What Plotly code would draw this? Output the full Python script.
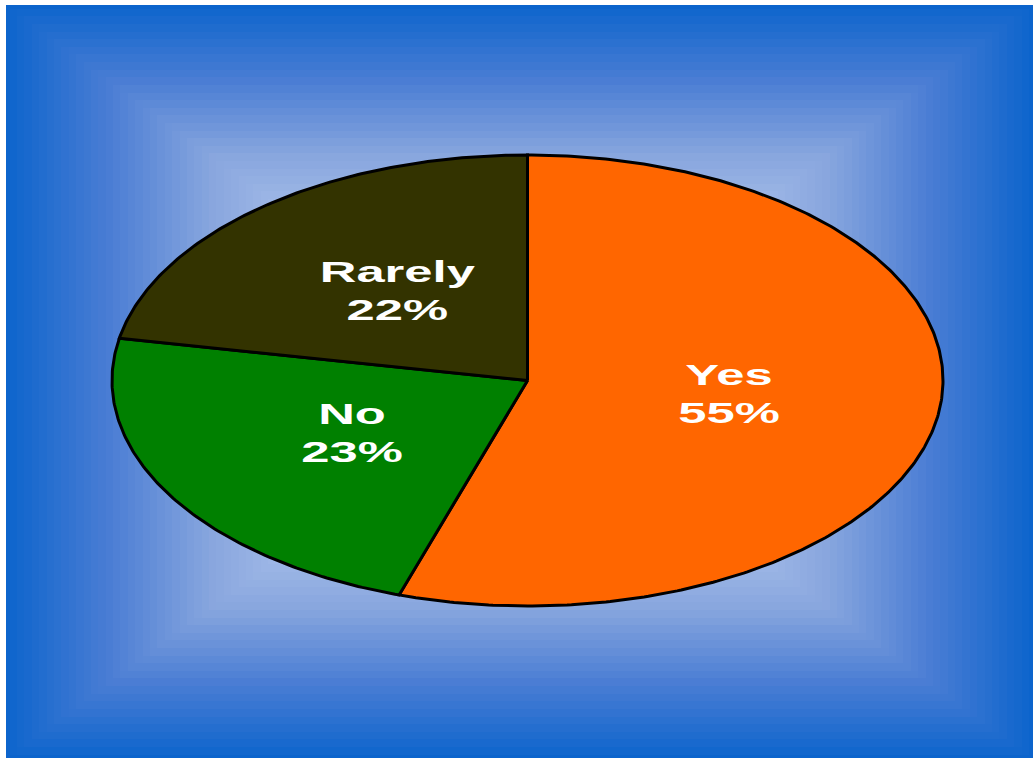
import numpy as np
import plotly.graph_objects as go

labels = ["Yes", "No", "Rarely"]
values = [55, 23, 22]
colors = ["#ff6600", "#008000", "#333300"]

W, H = 1033, 758
# ellipse geometry in pixels (layout)
cx, cy, rx, ry = 527.5, 380.5, 415.5, 225.5

fig = go.Figure()

# background rectangular gradient
nx, ny = 140, 100
u = np.linspace(-1, 1, nx)
v = np.linspace(-1, 1, ny)
U, V = np.meshgrid(u, v)
Z = np.maximum(np.abs(U), np.abs(V))
fig.add_trace(go.Heatmap(
    z=Z, x=u, y=v, zmin=0, zmax=1, zsmooth=False, showscale=False,
    hoverinfo="skip",
    colorscale=[[0, "#dde7f8"], [0.35, "#b4c8ee"], [0.6, "#88a6de"],
                [0.8, "#4a7dd4"], [1.0, "#0c64cc"]],
    xaxis="x", yaxis="y"))

# pie slices in unit-circle coordinates, axes scaled into an ellipse
total = float(sum(values))
start = 0.0
annotations = []
for lab, val, col in zip(labels, values, colors):
    frac = val / total
    a0 = start * 2 * np.pi
    a1 = (start + frac) * 2 * np.pi
    n = max(int(frac * 600), 8)
    t = np.linspace(a0, a1, n)
    xs = np.concatenate([[0], np.sin(t), [0]])
    ys = np.concatenate([[0], np.cos(t), [0]])
    fig.add_trace(go.Scatter(
        x=xs, y=ys, mode="lines", fill="toself", fillcolor=col,
        line=dict(color="black", width=3), hoverinfo="skip",
        showlegend=False, xaxis="x2", yaxis="y2"))
    mid = (a0 + a1) / 2
    annotations.append(dict(
        x=0.49 * np.sin(mid), y=0.49 * np.cos(mid), xref="x2", yref="y2",
        text="<b>%s<br>%d%%</b>" % (lab, round(frac * 100)),
        showarrow=False, yshift=4,
        font=dict(family="Liberation Sans, Arial, sans-serif", size=29, color="white")))
    start += frac

xr = [-cx / rx, (W - cx) / rx]
yr = [-(H - cy) / ry, cy / ry]

fig.update_layout(
    width=W, height=H, margin=dict(l=0, r=0, t=0, b=0),
    paper_bgcolor="white", plot_bgcolor="rgba(0,0,0,0)",
    showlegend=False,
    xaxis=dict(domain=[6 / W, 1], range=[-1, 1], visible=False, fixedrange=True),
    yaxis=dict(domain=[0, 1 - 5 / H], range=[-1, 1], visible=False, fixedrange=True),
    xaxis2=dict(domain=[0, 1], range=xr, visible=False, fixedrange=True),
    yaxis2=dict(domain=[0, 1], range=yr, visible=False, fixedrange=True),
    annotations=annotations,
)

post = ("document.body.style.margin='0';document.body.style.overflow='hidden';"
        "var s=document.createElement('style');"
        "s.textContent='.annotation-text{transform-box:fill-box;transform-origin:center;transform:scaleX(1.75);}';"
        "document.head.appendChild(s);")
fig.write_html("out.html", post_script=post, config={"displayModeBar": False})
